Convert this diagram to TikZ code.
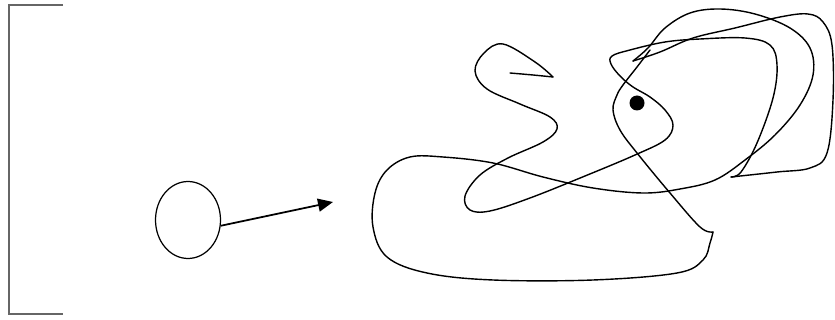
\documentclass[tikz,border=0pt]{standalone}
\usepackage{tikz}
\usetikzlibrary{arrows.meta, shapes.geometric}

\begin{document}
\begin{tikzpicture}[x=0.02cm, y=-0.02cm,
    scribble/.style={line width=0.8pt, line join=round, line cap=round},
    bracket/.style={black!60, line width=1.3pt}]
  \useasboundingbox (0,0) rectangle (835,320);
  \draw[bracket] (63,5) -- (9,5) -- (9,314) -- (63,314);
  \node[draw, ellipse, line width=0.7pt, minimum width=1.3cm, minimum height=1.54cm, inner sep=0] (ball) at (188,220) {};
  \coordinate (tip) at (333,202);
  \draw[line width=1pt, -{Triangle[length=3mm, width=2.6mm]}] (ball.-10) -- (tip);
  \node[fill, circle, inner sep=0, minimum size=0.3cm] (dot) at (637,103) {};
  \draw[scribble] plot[smooth, tension=0.6] coordinates {(510,73) (533,75) (553,77)};
  \draw[scribble] plot[smooth, tension=0.6] coordinates {(553,77) (535,62) (503,44) (484,53) (475,71) (487,89) (520,104) (550,117) (557,129) (543,142) (508,158) (480,175) (465,196) (470,210) (490,211) (530,198) (585,176) (635,155) (665,140) (673,125) (665,110) (650,97) (633,87) (620,76) (611,64) (612,56) (630,50) (665,42) (700,39) (745,38) (770,45) (777,65) (773,98) (757,143) (741,172) (731,177)};
  \draw[scribble] plot[smooth, tension=0.6] coordinates {(731,177) (777,172) (810,168) (827,153) (833,100) (832,45) (823,22) (808,14) (780,17) (735,28) (693,38) (660,52) (633,61)};
  \draw[scribble] plot[smooth, tension=0.6] coordinates {(633,61) (648,48) (665,28) (690,13) (720,9) (755,14) (790,28) (810,48) (813,75) (800,105) (775,135) (745,160) (715,180) (680,189) (643,193) (593,188) (543,177) (493,163) (443,157) (410,157) (387,170) (375,193) (373,227) (387,257) (427,273) (493,280) (593,280) (677,273) (703,260) (710,243) (713,232)};
  \draw[scribble] plot[smooth, tension=0.6] coordinates {(713,232) (700,227) (670,193) (637,153) (620,130) (613,110) (617,95) (623,85) (637,67) (650,50)};
\end{tikzpicture}
\end{document}
